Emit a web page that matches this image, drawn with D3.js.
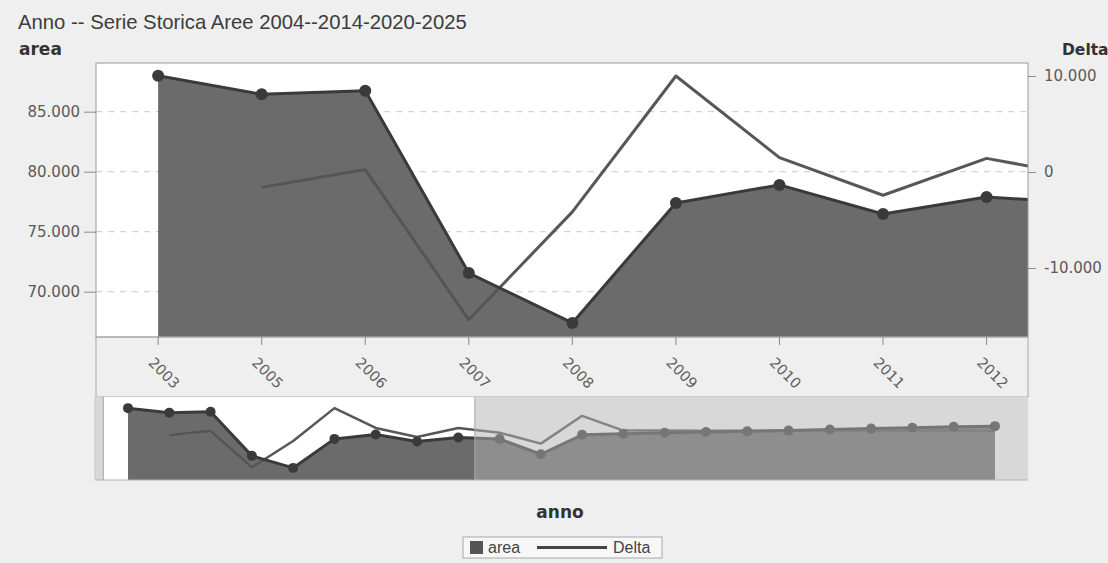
<!DOCTYPE html>
<html>
<head>
<meta charset="utf-8">
<script src="https://cdn.jsdelivr.net/npm/d3@7"></script>
<style>
  body { margin: 0; background: #efefef; }
  svg { display: block; }
</style>
</head>
<body>
<svg id="chart" width="1108" height="563"></svg>
<script>
// Yearly series: total area and the change from the previous year
const years = ["2003", "2005", "2006", "2007", "2008", "2009", "2010", "2011", "2012", "2013", "2014",
               "2015", "2016", "2017", "2018", "2019", "2020", "2021", "2022", "2023", "2024", "2025"];
const area  = [88000, 86450, 86750, 71550, 67400, 77400, 78900, 76480, 77900, 77350, 72100,
               78800, 79150, 79500, 79750, 80000, 80250, 80650, 80950, 81250, 81600, 81800];
const delta = [null, -1600, 250, -15400, -4150, 10000, 1500, -2420, 1420, -550, -5250,
               6700, 350, 350, 250, 250, 250, 400, 300, 300, 350, 200];
const areaTicks  = [70000, 75000, 80000, 85000];
const deltaTicks = [-10000, 0, 10000];
const visibleCount = 9;   // years shown in the detail view (2003..2012)

const svg = d3.select("#chart");
const fmt = d3.formatLocale({ decimal: ",", thousands: ".", grouping: [3], currency: ["", "€"], minus: "-" }).format(",d");

// Layout boxes
const M = { left: 96, right: 1028, top: 63, bottom: 337 };
const AX = { bottom: 397 };
const O = { left: 95, right: 1028, top: 397, bottom: 480 };

const cArea = "#555", cAreaLine = "#3a3a3a", cDelta = "#575757";

// ---------- overview (full range) scales ----------
const xOv = d3.scalePoint().domain(years).range([O.left, O.right]).padding(0.8);
const stepOv = xOv.step();
const yAreaOv = d3.scaleLinear().domain([63230, 91840]).range([O.bottom, O.top]);
const yDeltaOv = d3.scaleLinear().domain([-20880, 14780]).range([O.bottom, O.top]);

// selected window in the overview: from 0.6 step before the first year to 0.4 step after the 9th
const selX0 = xOv(years[0]) - 0.6 * stepOv;
const selX1 = xOv(years[visibleCount - 1]) + 0.4 * stepOv;

// ---------- detail scales ----------
const zoom = d3.scaleLinear().domain([selX0, selX1]).range([M.left, M.right]);
const xMain = d => zoom(xOv(d));
const yArea = d3.scaleLinear().domain([66225, 89058]).range([M.bottom, M.top]);
const yDelta = d3.scaleLinear().domain([-17188, 11354]).range([M.bottom, M.top]);

const rows = years.map((y, i) => ({ year: y, area: area[i], delta: delta[i] }));

// ---------- title ----------
svg.append("text").attr("x", 18).attr("y", 29)
  .attr("font-family", "Liberation Sans, Arial, sans-serif").attr("font-size", 20.3)
  .attr("fill", "#3c3c3c").text("Anno -- Serie Storica Aree 2004--2014-2020-2025");

const boldLabel = (x, y, t, anchor, size) => svg.append("text").attr("x", x).attr("y", y)
  .attr("font-family", "DejaVu Sans, sans-serif").attr("font-weight", "bold")
  .attr("font-size", size).attr("fill", "#333").attr("text-anchor", anchor).text(t);
boldLabel(19, 55, "area", "start", 17);
boldLabel(1062, 55, "Delta", "start", 15.5);
boldLabel(560, 518, "anno", "middle", 17);

// ---------- detail plot ----------
const defs = svg.append("defs");
defs.append("clipPath").attr("id", "clipMain").append("rect")
  .attr("x", M.left).attr("y", M.top).attr("width", M.right - M.left).attr("height", M.bottom - M.top);

svg.append("rect").attr("x", M.left).attr("y", M.top)
  .attr("width", M.right - M.left).attr("height", M.bottom - M.top).attr("fill", "#fff");

const main = svg.append("g").attr("clip-path", "url(#clipMain)");

main.selectAll("line.grid").data(areaTicks).join("line").attr("class", "grid")
  .attr("x1", M.left).attr("x2", M.right)
  .attr("y1", d => yArea(d)).attr("y2", d => yArea(d))
  .attr("stroke", "#c9c9c9").attr("stroke-dasharray", "6,6");

main.append("path").datum(rows)
  .attr("d", d3.line().defined(d => d.delta != null).x(d => xMain(d.year)).y(d => yDelta(d.delta)))
  .attr("fill", "none").attr("stroke", cDelta).attr("stroke-width", 3).attr("stroke-linejoin", "round");

main.append("path").datum(rows)
  .attr("d", d3.area().x(d => xMain(d.year)).y0(M.bottom).y1(d => yArea(d.area)))
  .attr("fill", cArea).attr("fill-opacity", 0.87);

main.append("path").datum(rows)
  .attr("d", d3.line().x(d => xMain(d.year)).y(d => yArea(d.area)))
  .attr("fill", "none").attr("stroke", cAreaLine).attr("stroke-width", 3).attr("stroke-linejoin", "round");

main.selectAll("circle").data(rows).join("circle")
  .attr("cx", d => xMain(d.year)).attr("cy", d => yArea(d.area)).attr("r", 6)
  .attr("fill", cAreaLine);

svg.append("rect").attr("x", M.left).attr("y", M.top)
  .attr("width", M.right - M.left).attr("height", M.bottom - M.top)
  .attr("fill", "none").attr("stroke", "#9a9a9a");

// ---------- axes ----------
const styleAxis = (g, size) => {
  g.select(".domain").remove();
  g.selectAll(".tick line").attr("stroke", "#8a8a8a");
  g.selectAll(".tick text").attr("font-family", "DejaVu Sans, sans-serif")
    .attr("font-size", size).attr("fill", "#5a5a5a");
};

svg.append("g").attr("transform", `translate(${M.left},0)`)
  .call(d3.axisLeft(yArea).tickValues(areaTicks).tickSize(12).tickPadding(4).tickFormat(fmt))
  .call(g => styleAxis(g, 15));

svg.append("g").attr("transform", `translate(${M.right},0)`)
  .call(d3.axisRight(yDelta).tickValues(deltaTicks).tickSize(8).tickPadding(8).tickFormat(fmt))
  .call(g => styleAxis(g, 15));

// x axis box with rotated year labels
svg.append("rect").attr("x", M.left).attr("y", M.bottom)
  .attr("width", M.right - M.left).attr("height", AX.bottom - M.bottom)
  .attr("fill", "none").attr("stroke", "#a8a8a8");

const xTicks = years.slice(0, visibleCount);
const xg = svg.append("g");
xg.selectAll("line").data(xTicks).join("line")
  .attr("x1", d => xMain(d)).attr("x2", d => xMain(d))
  .attr("y1", M.bottom).attr("y2", M.bottom + 8).attr("stroke", "#8a8a8a");
xg.selectAll("text").data(xTicks).join("text")
  .attr("transform", d => `translate(${xMain(d) + 6},${M.bottom + 36}) rotate(45)`)
  .attr("text-anchor", "middle").attr("dy", "0.35em")
  .attr("font-family", "DejaVu Sans, sans-serif").attr("font-size", 14.5)
  .attr("fill", "#606060").text(d => d);

// ---------- overview ----------
svg.append("rect").attr("x", O.left).attr("y", O.top)
  .attr("width", O.right - O.left).attr("height", O.bottom - O.top).attr("fill", "#fff");

const ov = svg.append("g");
ov.append("path").datum(rows)
  .attr("d", d3.line().defined(d => d.delta != null).x(d => xOv(d.year)).y(d => yDeltaOv(d.delta)))
  .attr("fill", "none").attr("stroke", cDelta).attr("stroke-width", 2.5).attr("stroke-linejoin", "round");
ov.append("path").datum(rows)
  .attr("d", d3.area().x(d => xOv(d.year)).y0(O.bottom).y1(d => yAreaOv(d.area)))
  .attr("fill", cArea).attr("fill-opacity", 0.87);
ov.append("path").datum(rows)
  .attr("d", d3.line().x(d => xOv(d.year)).y(d => yAreaOv(d.area)))
  .attr("fill", "none").attr("stroke", cAreaLine).attr("stroke-width", 3).attr("stroke-linejoin", "round");
ov.selectAll("circle").data(rows).join("circle")
  .attr("cx", d => xOv(d.year)).attr("cy", d => yAreaOv(d.area)).attr("r", 5)
  .attr("fill", cAreaLine);

// shading outside the selected window
const shade = [[O.left, selX0], [selX1, O.right]];
svg.selectAll("rect.shade").data(shade).join("rect").attr("class", "shade")
  .attr("x", d => d[0]).attr("y", O.top).attr("width", d => d[1] - d[0]).attr("height", O.bottom - O.top)
  .attr("fill", "rgb(178,178,178)").attr("fill-opacity", 0.5);

svg.append("line").attr("x1", selX0).attr("x2", selX0).attr("y1", O.top).attr("y2", O.bottom)
  .attr("stroke", "#a0a0a0");
svg.append("line").attr("x1", selX1).attr("x2", selX1).attr("y1", O.top).attr("y2", O.bottom)
  .attr("stroke", "#a8a8a8");
svg.append("line").attr("x1", O.left).attr("x2", O.right).attr("y1", O.bottom).attr("y2", O.bottom)
  .attr("stroke", "#b5b5b5");
svg.append("line").attr("x1", O.left).attr("x2", O.left).attr("y1", O.top).attr("y2", O.bottom)
  .attr("stroke", "#c5c5c5");

// ---------- legend ----------
const lg = svg.append("g");
lg.append("rect").attr("x", 463).attr("y", 537).attr("width", 199).attr("height", 21)
  .attr("fill", "#f7f7f7").attr("stroke", "#a8a8a8");
lg.append("rect").attr("x", 470).attr("y", 541).attr("width", 13).attr("height", 13).attr("fill", cArea);
lg.append("text").attr("x", 488).attr("y", 553).attr("font-family", "Liberation Sans, Arial, sans-serif")
  .attr("font-size", 16).attr("fill", "#444").text("area");
lg.append("line").attr("x1", 537).attr("x2", 607).attr("y1", 547.5).attr("y2", 547.5)
  .attr("stroke", "#444").attr("stroke-width", 3);
lg.append("text").attr("x", 613).attr("y", 553).attr("font-family", "Liberation Sans, Arial, sans-serif")
  .attr("font-size", 16).attr("fill", "#444").text("Delta");
</script>
</body>
</html>
